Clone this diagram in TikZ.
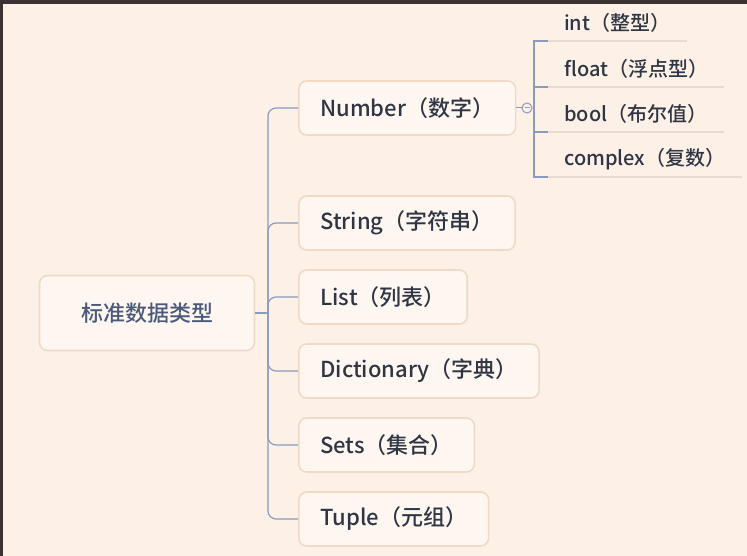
\documentclass[tikz,border=0pt]{standalone}
\usepackage{fontspec}
\setmainfont{Noto Sans CJK SC Medium}
\usetikzlibrary{positioning}
\definecolor{mapbg}{HTML}{FDF0E7}
\definecolor{mapframe}{HTML}{3B3331}
\definecolor{mapborder}{HTML}{F0D9C6}
\definecolor{mapline}{HTML}{8A9BBD}
\definecolor{maptext}{HTML}{2F3542}
\definecolor{maproot}{HTML}{4B5A7A}
\definecolor{mapunder}{HTML}{E8DBD0}

\tikzset{
    topic/.style={draw=mapborder, line width=1.6pt, fill=mapbg!60!white,
        rounded corners=8pt, minimum height=54pt, inner xsep=21.5pt,
        anchor=west, text=maptext, font=\fontsize{22}{26}\selectfont},
    subtopic/.style={minimum height=36pt, inner xsep=16pt, anchor=south west,
        text=maptext, font=\fontsize{20}{24}\selectfont},
    branch/.style={draw=mapline, line width=1.2pt}
}

\begin{document}
\begin{tikzpicture}[x=1pt, y=-1pt]
            % Frame and background
            \fill[mapframe] (0,0) rectangle (747,556);
            \fill[mapbg] (3,4) rectangle (747,556);
            \useasboundingbox (0,0) rectangle (747,556);

            % Root
            \node[topic, anchor=center, minimum width=215pt, minimum height=75pt,
                text=maproot] (root) at (147,313) {标准数据类型};
            \coordinate (hub) at (268,313);
            \draw[branch] (root.east) -- (hub);

            % Main branches
            \foreach \y/\name/\label in {108/number/Number（数字）, 223/string/String（字符串）,
                297/list/List（列表）, 371/dict/Dictionary（字典）, 445/sets/Sets（集合）,
                519/tuple/Tuple（元组）} {
                \node[topic] (\name) at (298,\y) {\label};
                \draw[branch, rounded corners=8pt] (hub) |- (\name.west);
            }

            % Fold marker
            \node[draw=mapline, fill=mapbg, circle, inner sep=0pt, minimum size=10pt,
                line width=1pt] (fold) at (527,108) {};
            \draw[mapline, line width=1pt] (fold.center) ++(-2.5,0) -- ++(5,0);
            \draw[branch, line width=1pt] (number.east) -- (fold.west);
            \coordinate (bracket) at (534,108);
            \draw[branch] (fold.east) -- (bracket);

            % Number types
            \foreach \y/\name/\label in {41/int/int（整型）, 87/float/float（浮点型）,
                132/bool/bool（布尔值）, 177/complex/complex（复数）} {
                \node[subtopic] (\name) at (548,\y) {\label};
                \draw[mapunder, line width=1.2pt] (\name.south west) -- (\name.south east);
                \draw[branch] (bracket) |- (\name.south west);
            }
        \end{tikzpicture}
\end{document}
